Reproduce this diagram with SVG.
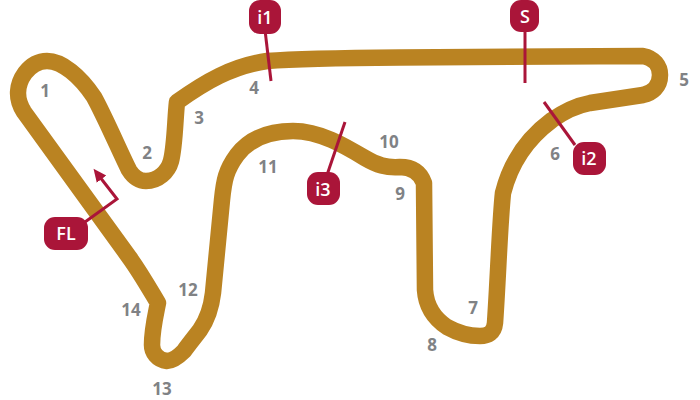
<svg xmlns="http://www.w3.org/2000/svg" width="700" height="400" viewBox="0 0 700 400">
<style>
.track{fill:none;stroke:#ba8322;stroke-width:16.500;stroke-linejoin:round}
.line{fill:none;stroke:#aa1539;stroke-width:3}
.pill{fill:#aa1539}
.n{font:700 17px "Open Sans","Noto Sans",sans-serif;fill:#808285;text-anchor:middle}
.t{font:600 18px "Open Sans","Noto Sans",sans-serif;fill:#fff;text-anchor:middle}
</style>
<defs><marker id="a" markerWidth="14" markerHeight="14" refX="9" refY="7" orient="auto" markerUnits="userSpaceOnUse"><path d="M0 1L13 7L0 13Z" fill="#aa1539"/></marker></defs>
<g id="track"><path class="track" d="M158 303C149 288 140 272 129 257L24 112C15 98 17 84 25 73C32 64 40 61 47 61C62 61 80 76 94 97C105 117 120 152 129 170C134 178 140 181 146 181C158 181 168 172 171 161C175 145 175 120 177 102C205 82 232 66 267 61C300 58.500 340 58 400 57.500L643 56C654 58 660 66 660 75C660 87 652 93 643 95L590 103C574 106 562 113 552 120C525 140 510 165 503 193C500 220 498 280 495 323C494 333 488 336 480 336C466 336 456 332 447 327C432 317 426 305 425 290L424 183C420 172 412 167 400 167C386 168 377 165 365 158C345 146 320 131 293 131C270 131 250 138 237 155C226 170 224 180 222 200L213 293C211 310 207 320 200 330C194 338 189 344 184 351C177 358 172 361 167 361C157 360 152 352 152 345C152 330 155 318 158 303Z"/></g>
<g id="connectors">
<path class="line" d="M265 30L271 81"/>
<path class="line" d="M525 30V83"/>
<path class="line" d="M575 145L544 102"/>
<path class="line" d="M327 175L345 122"/>
<path class="line" marker-end="url(#a)" d="M85 222L117 199L96 172"/>
</g>
<g id="i1"><rect class="pill" x="249" y="0" width="32" height="34" rx="11"/><text class="t" x="265" y="24">i1</text></g>
<g id="S"><rect class="pill" x="510" y="0" width="29" height="32" rx="11"/><text class="t" x="525" y="23">S</text></g>
<g id="i2"><rect class="pill" x="573" y="142" width="33" height="33" rx="11"/><text class="t" x="589" y="165">i2</text></g>
<g id="i3"><rect class="pill" x="307" y="172" width="33" height="33" rx="11"/><text class="t" x="323" y="196">i3</text></g>
<g id="FL"><rect class="pill" x="44" y="217" width="44" height="33" rx="11"/><text class="t" x="66" y="240">FL</text></g>
<g id="labels">
<text class="n" x="45" y="97">1</text><text class="n" x="147" y="159">2</text><text class="n" x="199" y="124">3</text><text class="n" x="254" y="94">4</text><text class="n" x="684" y="86">5</text><text class="n" x="555" y="160">6</text><text class="n" x="473" y="314">7</text><text class="n" x="432" y="351">8</text><text class="n" x="400" y="200">9</text><text class="n" x="389" y="148">10</text><text class="n" x="268" y="173">11</text><text class="n" x="188" y="296">12</text><text class="n" x="162" y="395">13</text><text class="n" x="131" y="316">14</text>
</g>
</svg>
